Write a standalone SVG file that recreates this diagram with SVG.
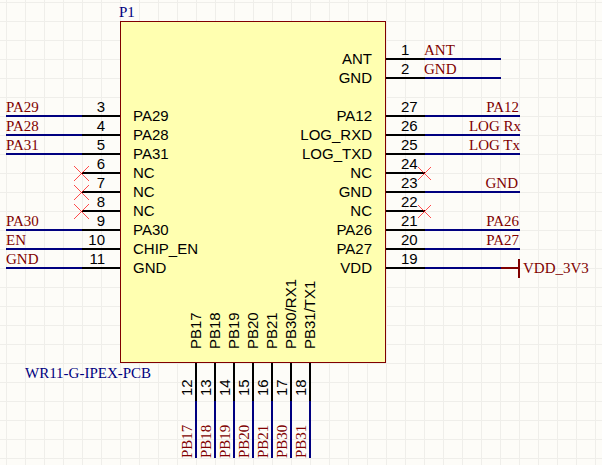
<svg xmlns="http://www.w3.org/2000/svg" width="602" height="465" viewBox="0 0 602 465">
<defs>
<pattern id="grid" x="6" y="2" width="19" height="19" patternUnits="userSpaceOnUse"><path d="M0.5 0V19M0 0.5H19" fill="none" stroke="#efeeea" stroke-width="1"/></pattern>
</defs>
<style>
.pin{stroke:#000;stroke-width:2;fill:none}
.wire{stroke:#000080;stroke-width:2;fill:none}
.nc{stroke:#ff0000;stroke-width:.7;fill:none}
.pw{stroke:#800000;stroke-width:2;fill:none}
text{font-family:"Liberation Sans",Arial,sans-serif;font-size:15px;fill:#000}
.net{font-family:"Liberation Serif","Times New Roman",serif;font-size:15px;fill:#800000}
.des{font-family:"Liberation Serif","Times New Roman",serif;font-size:15px;fill:#000080}
.e{text-anchor:end}
</style>
<rect width="602" height="465" fill="#fdfcf8"/>
<rect width="602" height="465" fill="url(#grid)"/>
<g id="P1">
<rect x="120.500" y="21.500" width="265" height="341" fill="#ffffb0" stroke="#800000" stroke-width="1"/>
<text class="des" x="119" y="17">P1</text>
<text class="des" x="25" y="378">WR11-G-IPEX-PCB</text>
<g id="left-pin-names">
<text x="133" y="121">PA29</text><text x="133" y="140">PA28</text><text x="133" y="159">PA31</text><text x="133" y="178">NC</text><text x="133" y="197">NC</text><text x="133" y="216">NC</text><text x="133" y="235">PA30</text><text x="133" y="254">CHIP_EN</text><text x="133" y="273">GND</text>
</g>
<g id="right-pin-names">
<text class="e" x="372" y="64">ANT</text><text class="e" x="372" y="83">GND</text><text class="e" x="372" y="121">PA12</text><text class="e" x="372" y="140">LOG_RXD</text><text class="e" x="372" y="159">LOG_TXD</text><text class="e" x="372" y="178">NC</text><text class="e" x="372" y="197">GND</text><text class="e" x="372" y="216">NC</text><text class="e" x="372" y="235">PA26</text><text class="e" x="372" y="254">PA27</text><text class="e" x="372" y="273">VDD</text>
</g>
<g id="bottom-pin-names">
<text transform="translate(201 349) rotate(-90)">PB17</text><text transform="translate(220 349) rotate(-90)">PB18</text><text transform="translate(239 349) rotate(-90)">PB19</text><text transform="translate(258 349) rotate(-90)">PB20</text><text transform="translate(277 349) rotate(-90)">PB21</text><text transform="translate(296 349) rotate(-90)">PB30/RX1</text><text transform="translate(315 349) rotate(-90)">PB31/TX1</text>
</g>
<g id="pin-numbers">
<text class="e" x="105" y="112">3</text><text class="e" x="105" y="131">4</text><text class="e" x="105" y="150">5</text><text class="e" x="105" y="169">6</text><text class="e" x="105" y="188">7</text><text class="e" x="105" y="207">8</text><text class="e" x="105" y="226">9</text><text class="e" x="105" y="245">10</text><text class="e" x="105" y="264">11</text>
<text x="401" y="55">1</text><text x="401" y="74">2</text><text x="401" y="112">27</text><text x="401" y="131">26</text><text x="401" y="150">25</text><text x="401" y="169">24</text><text x="401" y="188">23</text><text x="401" y="207">22</text><text x="401" y="226">21</text><text x="401" y="245">20</text><text x="401" y="264">19</text>
<text transform="translate(192 396) rotate(-90)">12</text><text transform="translate(211 396) rotate(-90)">13</text><text transform="translate(230 396) rotate(-90)">14</text><text transform="translate(249 396) rotate(-90)">15</text><text transform="translate(268 396) rotate(-90)">16</text><text transform="translate(287 396) rotate(-90)">17</text><text transform="translate(306 396) rotate(-90)">18</text>
</g>
</g>
<g id="connectors">
<path class="wire" d="M6 116H82M6 135H82M6 154H82M6 230H82M6 249H82M6 268H82M425 59H501M425 78H501M425 116H520M425 135H520M425 154H520M425 192H520M425 230H520M425 249H520M425 268H501M196 401V458M215 401V458M234 401V458M253 401V458M272 401V458M291 401V458M310 401V458"/>
<path class="pin" d="M82 116H120M82 135H120M82 154H120M82 173H120M82 192H120M82 211H120M82 230H120M82 249H120M82 268H120M386 59H425M386 78H425M386 116H425M386 135H425M386 154H425M386 173H425M386 192H425M386 211H425M386 230H425M386 249H425M386 268H425M196 363V401M215 363V401M234 363V401M253 363V401M272 363V401M291 363V401M310 363V401"/>
<path class="nc" d="M74 166L89 181M89 166L74 181M74 185L89 200M89 185L74 200M74 204L89 219M89 204L74 219M418 167L431 180M431 167L418 180M418 205L431 218M431 205L418 218"/>
<path class="pw" d="M501 268H519M519 259V278"/>
</g>
<g id="net-labels">
<text class="net" x="6" y="112">PA29</text><text class="net" x="6" y="131">PA28</text><text class="net" x="6" y="150">PA31</text><text class="net" x="6" y="226">PA30</text><text class="net" x="6" y="245">EN</text><text class="net" x="6" y="264">GND</text>
<text class="net" x="424" y="55">ANT</text><text class="net" x="424" y="74">GND</text>
<text class="net e" x="519" y="112">PA12</text><text class="net e" x="521" y="131">LOG Rx</text><text class="net e" x="520" y="150">LOG Tx</text><text class="net e" x="518" y="188">GND</text><text class="net e" x="519" y="226">PA26</text><text class="net e" x="519" y="245">PA27</text>
<text class="net" x="523" y="273">VDD_3V3</text>
<text class="net" transform="translate(192 458) rotate(-90)">PB17</text><text class="net" transform="translate(211 458) rotate(-90)">PB18</text><text class="net" transform="translate(230 458) rotate(-90)">PB19</text><text class="net" transform="translate(249 458) rotate(-90)">PB20</text><text class="net" transform="translate(268 458) rotate(-90)">PB21</text><text class="net" transform="translate(287 458) rotate(-90)">PB30</text><text class="net" transform="translate(306 458) rotate(-90)">PB31</text>
</g>
</svg>
